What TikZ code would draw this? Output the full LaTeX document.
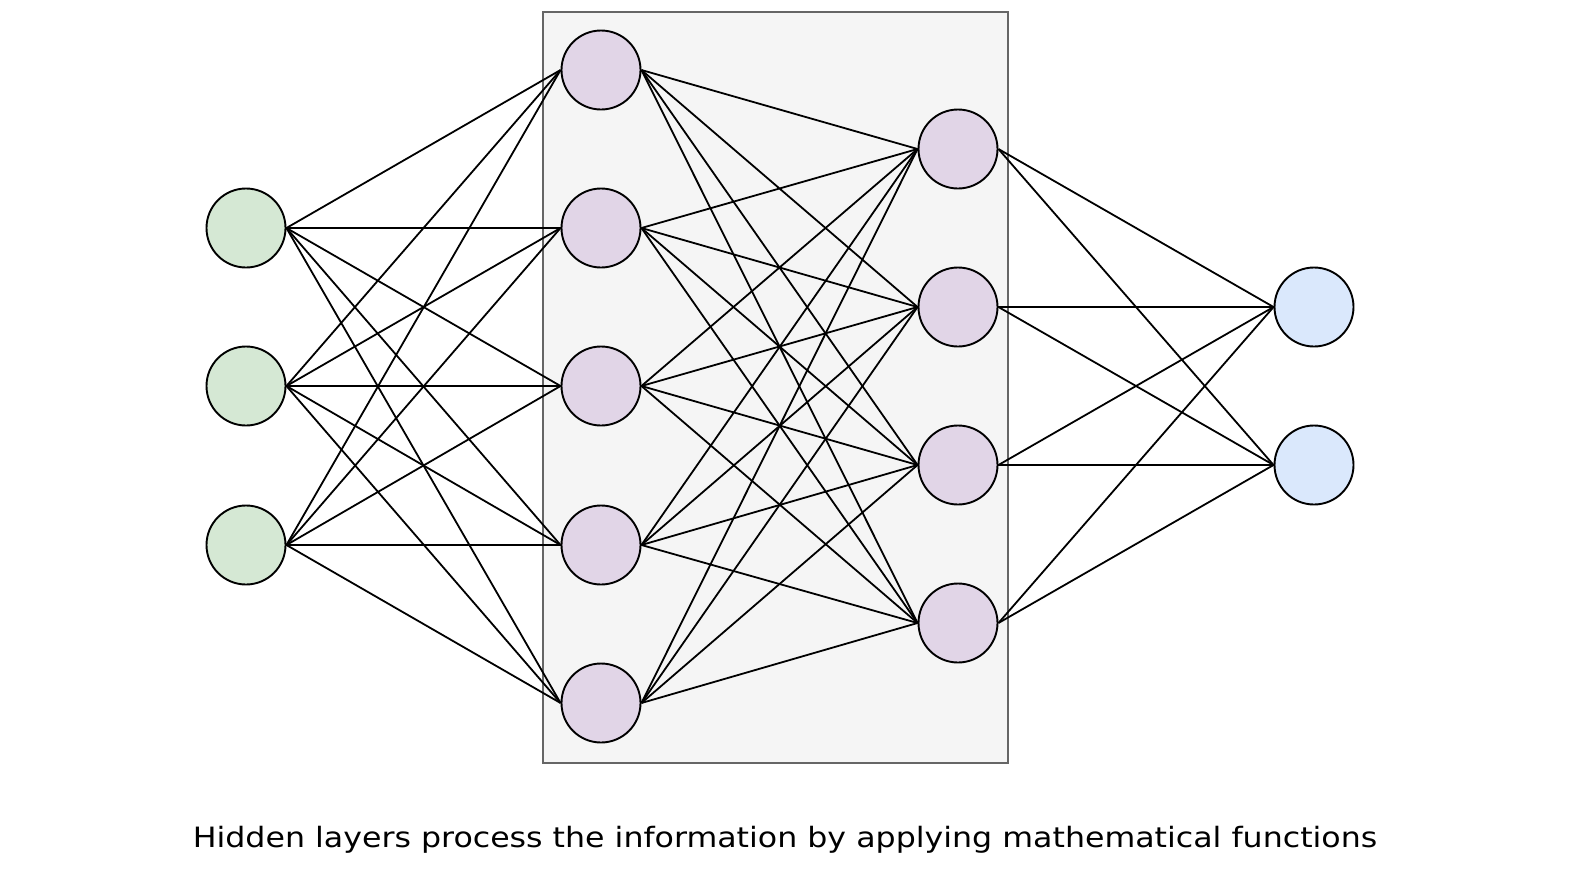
\documentclass[tikz,border=0pt]{standalone}
\usepackage{fontspec}
\setmainfont{DejaVu Sans}
\newfontfamily\capfont[FakeStretch=1.13]{DejaVu Sans}
\definecolor{ingreen}{HTML}{D5E8D4}
\definecolor{hidpurple}{HTML}{E1D5E7}
\definecolor{outblue}{HTML}{DAE8FC}
\definecolor{boxfill}{HTML}{F5F5F5}
\definecolor{boxline}{HTML}{666666}
\begin{document}
\begin{tikzpicture}[x=1pt,y=-1pt,
  neuron/.style={circle,draw=black,line width=1.9pt,minimum size=79pt,inner sep=0pt},
  inneuron/.style={neuron,fill=ingreen},
  hidneuron/.style={neuron,fill=hidpurple},
  outneuron/.style={neuron,fill=outblue},
  link/.style={draw=black,line width=1.8pt},
  panel/.style={draw=boxline,fill=boxfill,line width=1.8pt}]
\useasboundingbox (0,0) rectangle (1582,884);
\node[panel,minimum width=465pt,minimum height=751pt,inner sep=0pt,anchor=north west] (box) at (542,11) {};
% input layer
\foreach \i/\y in {1/228,2/386,3/545}{\node[inneuron] (i\i) at (246,\y) {};}
% hidden layer 1
\foreach \i/\y in {1/70,2/228,3/386,4/545,5/703}{\node[hidneuron] (a\i) at (601,\y) {};}
% hidden layer 2
\foreach \i/\y in {1/149,2/307,3/465,4/623}{\node[hidneuron] (b\i) at (958,\y) {};}
% output layer
\foreach \i/\y in {1/307,2/465}{\node[outneuron] (o\i) at (1314,\y) {};}
% connectors
\foreach \s in {1,2,3}{\foreach \t in {1,...,5}{\draw[link] (i\s.east) -- (a\t.west);}}
\foreach \s in {1,...,5}{\foreach \t in {1,...,4}{\draw[link] (a\s.east) -- (b\t.west);}}
\foreach \s in {1,...,4}{\foreach \t in {1,2}{\draw[link] (b\s.east) -- (o\t.west);}}
\node[font=\capfont\fontsize{28}{32}\selectfont,anchor=base,inner sep=0pt] (caption) at (785,847) {Hidden layers process the information by applying mathematical functions};
\end{tikzpicture}
\end{document}
